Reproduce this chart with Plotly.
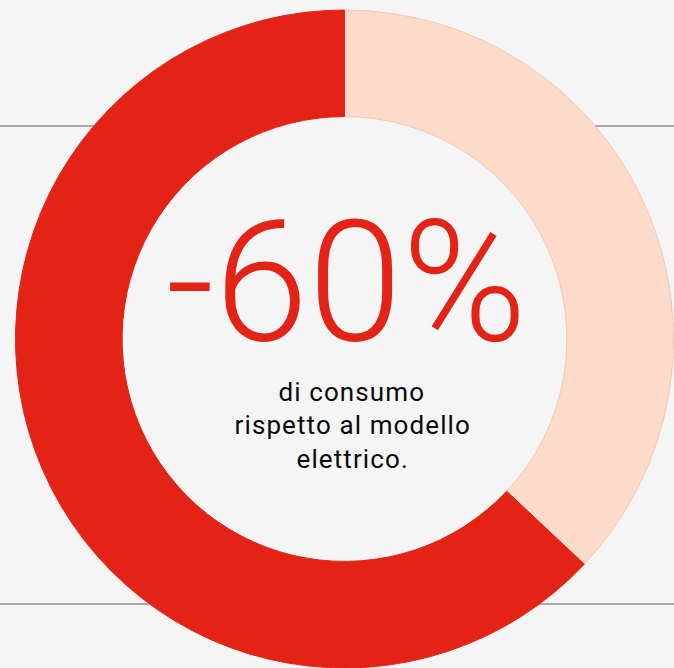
import plotly.graph_objects as go

labels = ["Risparmio", "Consumo"]
values = [37, 63]
colors = ["#fddbcb", "#e32315"]
line_colors = ["#f7c6b2", "#e32315"]

headline = "-60%"
sub_lines = ["di consumo", "rispetto al modello", "elettrico."]

W, H = 674, 668

fig = go.Figure()
fig.add_trace(go.Pie(
    labels=labels,
    values=values,
    hole=0.676,
    sort=False,
    direction="clockwise",
    rotation=0,
    textinfo="none",
    hoverinfo="label+percent",
    marker=dict(colors=colors, line=dict(color=line_colors, width=1)),
    domain=dict(x=[15 / W, 1], y=[0, 1 - 10 / H]),
    showlegend=False,
))

# horizontal grey rules behind the ring
for y0, segs in [(126, [(0, 200), (490, W)]), (604, [(0, W)])]:
    for xa, xb in segs:
        fig.add_shape(type="line", xref="paper", yref="paper",
                      x0=xa / W, x1=xb / W, y0=1 - y0 / H, y1=1 - y0 / H,
                      line=dict(color="#aaaaaa", width=2), layer="below")

fig.add_annotation(text=headline, xref="paper", yref="paper",
                   x=347 / W, y=1 - 342 / H, xanchor="center", yanchor="bottom",
                   yshift=-41,
                   showarrow=False,
                   font=dict(family="Roboto", size=169, color="#e32315", weight=300))

baselines = [401, 434, 468]
for txt, b in zip(sub_lines, baselines):
    fig.add_annotation(text=txt, xref="paper", yref="paper",
                       x=352 / W, y=1 - (b - 9) / H, xanchor="center", yanchor="middle",
                       showarrow=False,
                       font=dict(family="Roboto", size=26, color="#0a0a0a"))

fig.update_layout(
    width=W, height=H,
    margin=dict(l=0, r=0, t=0, b=0),
    paper_bgcolor="#f5f5f5",
    plot_bgcolor="#f5f5f5",
)

post = """
document.body.style.margin='0';
document.body.style.background='#f5f5f5';
document.body.style.overflow='hidden';
document.querySelectorAll('.annotation-text').forEach(function(t){
  if (t.textContent !== '%s') { t.style.letterSpacing = '1.1px'; }
});
""" % headline

fig.write_html("out.html", config={"displayModeBar": False}, post_script=post)
